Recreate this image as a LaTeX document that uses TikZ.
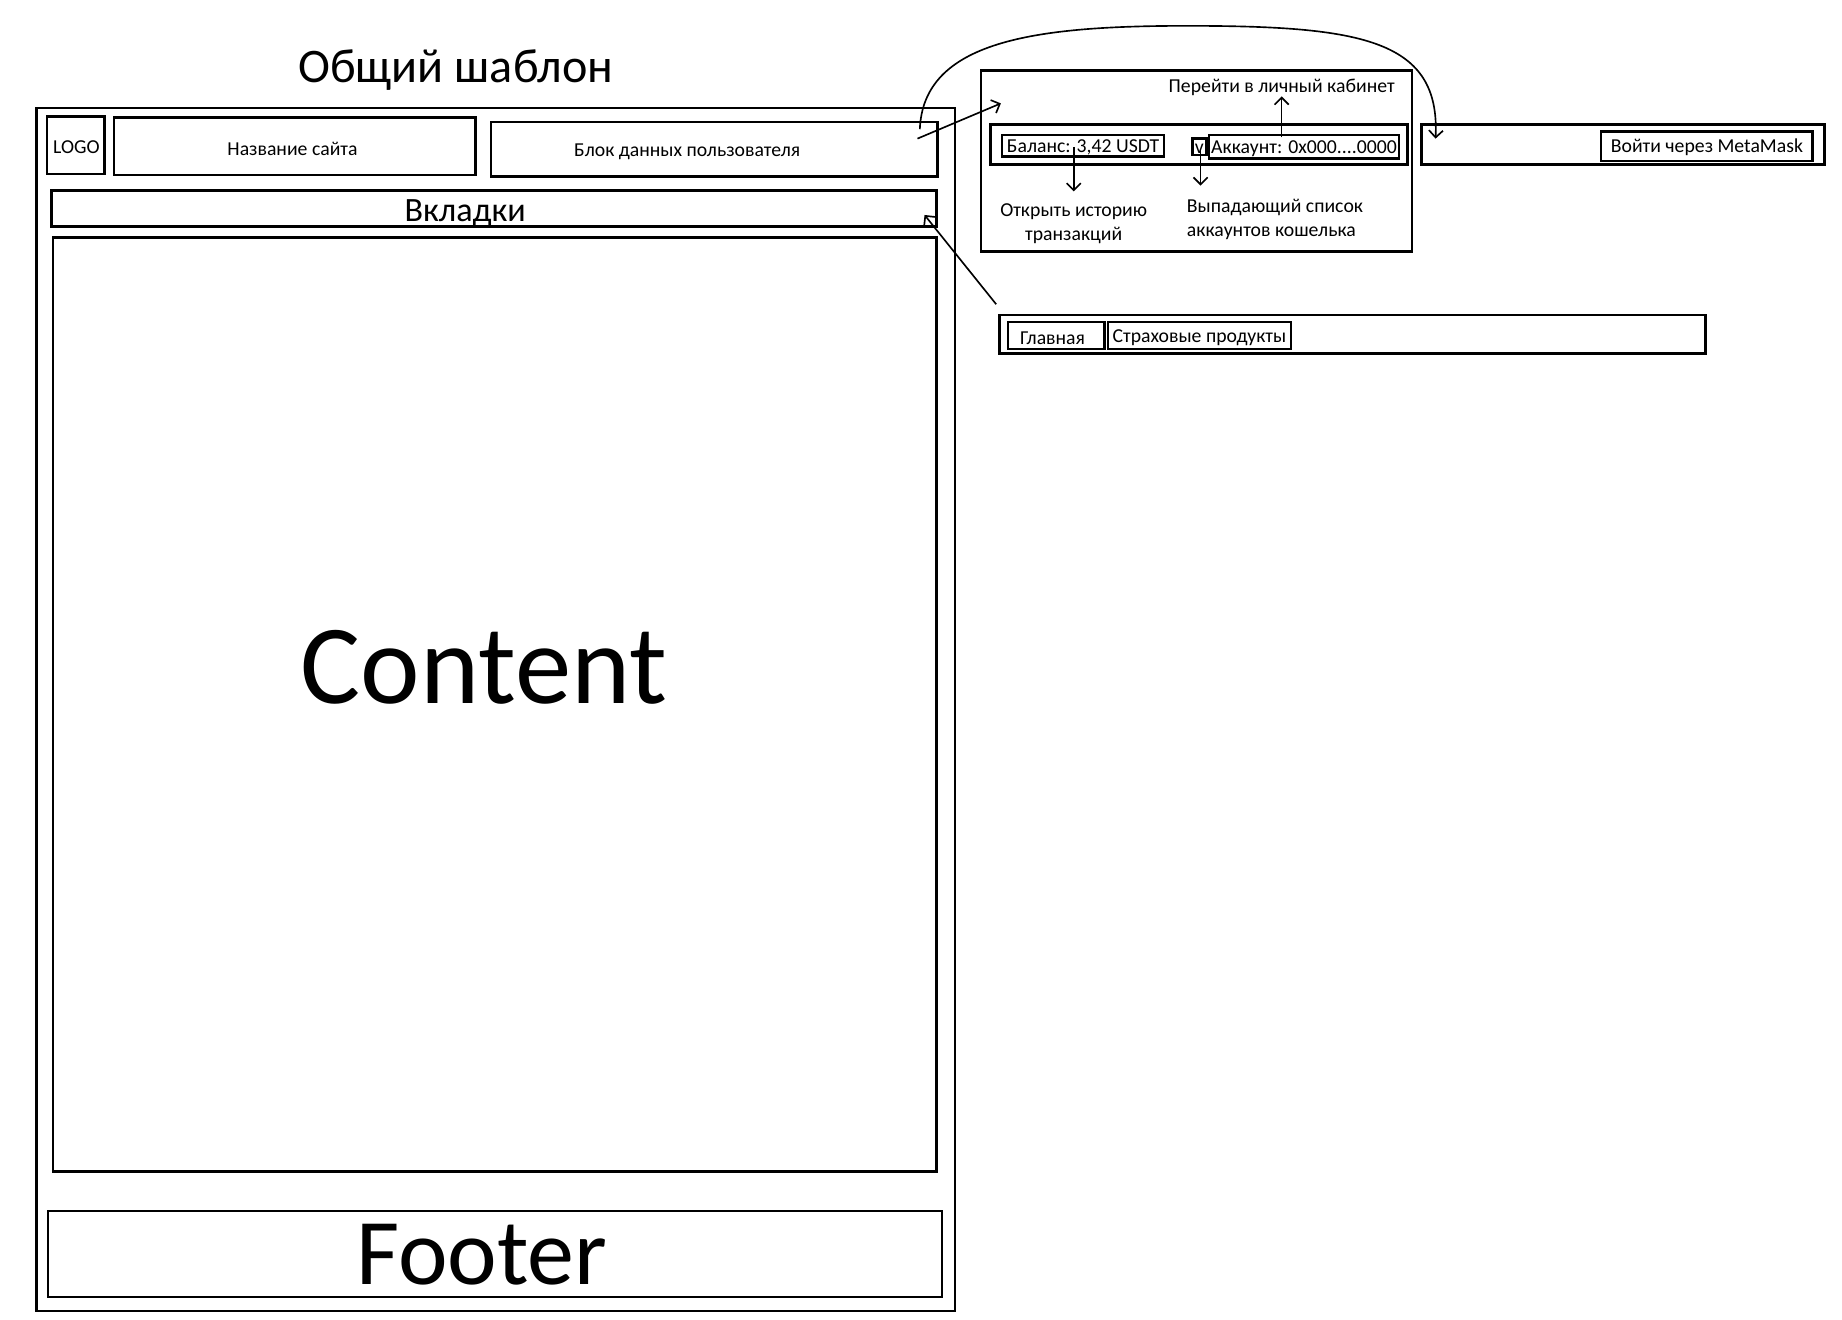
\documentclass[tikz,border=0pt]{standalone}
\usepackage{fontspec}
\setmainfont{Carlito}
\usetikzlibrary{arrows.meta,fit}
\tikzset{
  box/.style={draw=black, line width=1.1pt, inner sep=0pt, fill=none},
  txt/.style={inner sep=0pt, yshift=-0.8pt, font=\fontsize{8.4}{10}\selectfont},
  conn/.style={line width=0.7pt, -{Straight Barb[length=3pt,width=6pt]}},
}
\begin{document}
\begin{tikzpicture}[x=0.5pt,y=-0.5pt]
\useasboundingbox (0,0) rectangle (1568,1123);
\fill[white] (0,0) rectangle (1568,1123);
% title
\node[inner sep=0pt, font=\fontsize{20.5}{24}\selectfont] (title) at (388,60) {Общий шаблон};
% main frame
\node[box, fit={(31,92) (813,1116)}] (outer) {};
\node[box, fit={(40,99) (89,148)}] (logo) {};
\node[txt] at (65,124) {LOGO};
\node[box, fit={(97,100) (405,149)}] (sitename) {};
\node[txt] at (249,125) {Название сайта};
\node[box, fit={(418,104) (798,150)}] (userblock) {};
\node[txt] at (585,128) {Блок данных пользователя};
\node[box, fit={(44,162) (797,193)}] (tabs) {};
\node[inner sep=0pt, yshift=-1.5pt, font=\fontsize{14.5}{17}\selectfont] at (396,179) {Вкладки};
\node[box, fit={(45,202) (797,997)}] (content) {};
\node[inner sep=0pt, font=\fontsize{48}{56}\selectfont] at (412,568) {Content};
\node[box, fit={(41,1031) (802,1104)}] (footer) {};
\node[inner sep=0pt, font=\fontsize{40}{48}\selectfont] at (410,1068) {Footer};
% user panel
\node[box, fit={(835,60) (1202,214)}] (userpanel) {};
\node[txt] (lk) at (1091,73) {Перейти в личный кабинет};
\node[box, fit={(843,106) (1198,140)}] (userrow) {};
\node[box, fit={(853,115) (991,133)}] (balance) {};
\node[txt] at (922,124) {Баланс: 3,42 USDT};
\node[box, fit={(1015,118) (1027,132)}] (vbox) {};
\node[txt] at (1021,125) {v};
\node[box, fit={(1029,115) (1191,135)}] (account) {};
\node[txt] at (1110,125) {Аккаунт: 0x000....0000};
\node[txt, align=center] (hist) at (914,189) {Открыть историю\\транзакций};
\node[txt, align=left, anchor=west] (dropdown) at (1010,185) {Выпадающий список\\аккаунтов кошелька};
% metamask panel
\node[box, fit={(1210,106) (1553,140)}] (metapanel) {};
\node[box, fit={(1363,112) (1543,137)}] (metabtn) {};
\node[txt] at (1453,124) {Войти через MetaMask};
% tab panel
\node[box, fit={(851,268) (1452,301)}] (tabpanel) {};
\node[box, fit={(858,274) (940,297)}] (tabmain) {};
\node[txt] at (896,286) {Главная};
\node[box, fit={(943,274) (1099,297)}] (tabins) {};
\node[txt] at (1021,286) {Страховые продукты};
% connectors
\coordinate (a1s) at (781,118);
\coordinate (a1e) at (852,88);
\draw[conn] (a1s) -- (a1e);
\coordinate (c1s) at (783,110);
\coordinate (c1e) at (1222,118);
\draw[conn] (c1s) .. controls (786,35) and (880,22) .. (1010,22)
  .. controls (1160,22) and (1226,34) .. (c1e);
\coordinate (t1s) at (848,259);
\coordinate (t1e) at (787,183);
\draw[conn] (t1s) -- (t1e);
\coordinate (u1s) at (1091,117);
\draw[conn] (u1s) -- (lk.south);
\coordinate (b1s) at (914,125);
\coordinate (b1e) at (914,163);
\draw[conn] (b1s) -- (b1e);
\coordinate (v1s) at (1022,128);
\coordinate (v1e) at (1022,158);
\draw[conn] (v1s) -- (v1e);
\end{tikzpicture}
\end{document}
